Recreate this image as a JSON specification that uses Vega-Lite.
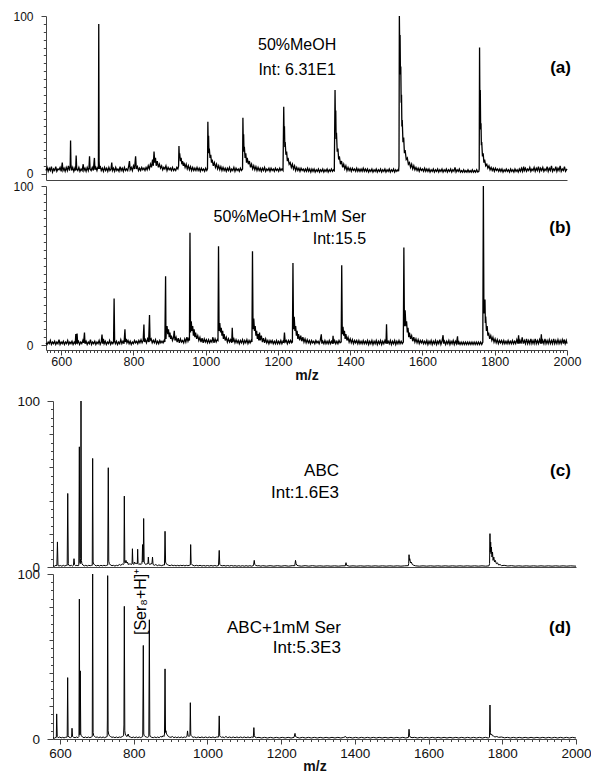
{
"$schema": "https://vega.github.io/schema/vega-lite/v6.json",
"background": "white",
"padding": {"left": 11, "top": 10, "right": 4, "bottom": 1},
"config": {"view": {"stroke": null}, "font": "Liberation Sans", "axis": {"grid": false, "domainColor": "#444", "tickColor": "#444", "labelColor": "#111", "titleColor": "#111", "labelOverlap": false, "labelFlush": false}},
"datasets": {
"a": [{"x":558,"y":2},{"x":561,"y":4},{"x":564,"y":1.5},{"x":567,"y":3.5},{"x":570,"y":2},{"x":573,"y":4.5},{"x":576,"y":1},{"x":579,"y":3},{"x":582,"y":2},{"x":585,"y":4.5},{"x":588,"y":1.5},{"x":591,"y":3},{"x":594,"y":2.5},{"x":597,"y":4},{"x":600,"y":1.5},{"x":603,"y":7},{"x":605,"y":2},{"x":608,"y":3.5},{"x":611,"y":1.5},{"x":614,"y":4},{"x":617,"y":2},{"x":620,"y":5},{"x":623,"y":2},{"x":625,"y":5},{"x":626,"y":21},{"x":627,"y":6},{"x":629,"y":2},{"x":632,"y":4},{"x":635,"y":1.5},{"x":638,"y":3.5},{"x":640,"y":2},{"x":641.5,"y":11.5},{"x":643,"y":3},{"x":646,"y":2},{"x":649,"y":4},{"x":652,"y":1.5},{"x":655,"y":3},{"x":658,"y":2},{"x":661,"y":6},{"x":663,"y":2},{"x":666,"y":3.5},{"x":669,"y":1.5},{"x":672,"y":4},{"x":675,"y":2},{"x":677,"y":4},{"x":678.5,"y":11},{"x":680,"y":3},{"x":683,"y":2},{"x":686,"y":4},{"x":689,"y":2},{"x":692,"y":10},{"x":693.5,"y":2.5},{"x":696,"y":4},{"x":699,"y":2},{"x":702,"y":4.5},{"x":703,"y":3},{"x":704,"y":95},{"x":705,"y":8},{"x":706,"y":3},{"x":708,"y":5},{"x":711,"y":2},{"x":714,"y":3.5},{"x":717,"y":1.5},{"x":720,"y":4},{"x":723,"y":2},{"x":726,"y":3.5},{"x":729,"y":1.5},{"x":732,"y":4},{"x":735,"y":2},{"x":738,"y":3},{"x":740,"y":7},{"x":742,"y":2},{"x":745,"y":3.5},{"x":748,"y":1.5},{"x":751,"y":4},{"x":754,"y":2},{"x":757,"y":3},{"x":760,"y":1.5},{"x":763,"y":4.5},{"x":766,"y":2},{"x":769,"y":3.5},{"x":772,"y":1.5},{"x":775,"y":4},{"x":778,"y":2},{"x":781,"y":3},{"x":784,"y":2},{"x":787,"y":5},{"x":789,"y":8},{"x":791,"y":2.5},{"x":794,"y":4},{"x":797,"y":2},{"x":800,"y":5},{"x":803,"y":3},{"x":806,"y":11},{"x":808,"y":3},{"x":811,"y":4.5},{"x":814,"y":2},{"x":817,"y":3.5},{"x":820,"y":2},{"x":823,"y":4},{"x":826,"y":2.5},{"x":829,"y":3.5},{"x":832,"y":2},{"x":835,"y":4},{"x":838,"y":2.5},{"x":841,"y":5},{"x":844,"y":3},{"x":847,"y":6},{"x":850,"y":4},{"x":853,"y":9},{"x":855,"y":5},{"x":857,"y":14},{"x":859,"y":7},{"x":861,"y":10},{"x":863,"y":5},{"x":866,"y":8},{"x":869,"y":4},{"x":872,"y":6},{"x":875,"y":3.5},{"x":878,"y":5},{"x":881,"y":2.5},{"x":884,"y":4},{"x":887,"y":3},{"x":890,"y":5},{"x":893,"y":2},{"x":896,"y":4},{"x":899,"y":2.5},{"x":902,"y":3.5},{"x":905,"y":2},{"x":908,"y":4},{"x":911,"y":2},{"x":914,"y":3},{"x":917,"y":2},{"x":920,"y":4},{"x":923,"y":3},{"x":925,"y":5},{"x":926,"y":17.5},{"x":927,"y":10},{"x":928,"y":13},{"x":930,"y":8},{"x":932,"y":10},{"x":934,"y":6},{"x":936,"y":8},{"x":938,"y":5},{"x":940,"y":7},{"x":943,"y":4},{"x":946,"y":6},{"x":949,"y":3},{"x":952,"y":5},{"x":955,"y":2.5},{"x":958,"y":4.5},{"x":961,"y":2},{"x":964,"y":4},{"x":967,"y":2},{"x":970,"y":3.5},{"x":973,"y":2},{"x":976,"y":4},{"x":979,"y":2},{"x":982,"y":3.5},{"x":985,"y":1.5},{"x":988,"y":3.5},{"x":991,"y":2},{"x":994,"y":3},{"x":997,"y":1.5},{"x":1000,"y":3.5},{"x":1003,"y":2},{"x":1005,"y":3},{"x":1006,"y":33},{"x":1007,"y":18},{"x":1008,"y":24},{"x":1009,"y":13},{"x":1010,"y":16},{"x":1012,"y":10},{"x":1014,"y":12},{"x":1016,"y":7},{"x":1018,"y":9},{"x":1021,"y":5},{"x":1024,"y":7},{"x":1027,"y":4},{"x":1030,"y":6},{"x":1033,"y":3},{"x":1036,"y":5},{"x":1039,"y":2.5},{"x":1042,"y":4.5},{"x":1045,"y":2},{"x":1048,"y":4},{"x":1051,"y":2},{"x":1054,"y":3.5},{"x":1057,"y":1.5},{"x":1060,"y":3.5},{"x":1063,"y":2},{"x":1066,"y":4},{"x":1069,"y":1.5},{"x":1072,"y":3},{"x":1075,"y":2},{"x":1078,"y":4},{"x":1081,"y":1.5},{"x":1084,"y":3.5},{"x":1087,"y":2},{"x":1090,"y":3},{"x":1093,"y":1.5},{"x":1096,"y":3.5},{"x":1099,"y":2},{"x":1102,"y":3},{"x":1103,"y":35.5},{"x":1104,"y":20},{"x":1105,"y":25},{"x":1106,"y":14},{"x":1107,"y":17},{"x":1109,"y":10},{"x":1111,"y":13},{"x":1113,"y":7},{"x":1115,"y":10},{"x":1118,"y":6},{"x":1121,"y":8},{"x":1124,"y":4},{"x":1127,"y":6},{"x":1130,"y":3},{"x":1133,"y":5},{"x":1136,"y":2.5},{"x":1139,"y":4.5},{"x":1142,"y":2},{"x":1145,"y":4},{"x":1148,"y":2},{"x":1151,"y":3.5},{"x":1154,"y":1.5},{"x":1157,"y":3.5},{"x":1160,"y":2},{"x":1163,"y":4},{"x":1166,"y":1.5},{"x":1169,"y":3},{"x":1172,"y":2},{"x":1175,"y":3.5},{"x":1178,"y":1.5},{"x":1181,"y":3.5},{"x":1184,"y":2},{"x":1187,"y":3},{"x":1190,"y":1.5},{"x":1193,"y":3.5},{"x":1196,"y":2},{"x":1199,"y":3},{"x":1202,"y":1.5},{"x":1205,"y":3.5},{"x":1208,"y":2},{"x":1211,"y":3},{"x":1214,"y":2},{"x":1216,"y":42.5},{"x":1217,"y":25},{"x":1218,"y":30},{"x":1219,"y":17},{"x":1220,"y":20},{"x":1222,"y":12},{"x":1224,"y":14},{"x":1226,"y":8},{"x":1228,"y":10},{"x":1231,"y":6},{"x":1234,"y":7},{"x":1237,"y":4},{"x":1240,"y":6},{"x":1243,"y":3},{"x":1246,"y":5},{"x":1249,"y":2},{"x":1252,"y":4},{"x":1255,"y":2},{"x":1258,"y":3.5},{"x":1261,"y":1.5},{"x":1264,"y":3.5},{"x":1267,"y":2},{"x":1270,"y":3},{"x":1273,"y":1.5},{"x":1276,"y":3},{"x":1279,"y":1.5},{"x":1282,"y":3.5},{"x":1285,"y":1.5},{"x":1288,"y":3},{"x":1291,"y":1},{"x":1294,"y":3},{"x":1297,"y":1.5},{"x":1300,"y":3},{"x":1303,"y":1},{"x":1306,"y":2.5},{"x":1309,"y":1.5},{"x":1312,"y":3},{"x":1315,"y":1},{"x":1318,"y":2.5},{"x":1321,"y":1.5},{"x":1324,"y":3},{"x":1327,"y":1},{"x":1330,"y":2.5},{"x":1333,"y":1.5},{"x":1336,"y":3},{"x":1339,"y":1},{"x":1342,"y":2.5},{"x":1345,"y":1.5},{"x":1348,"y":3},{"x":1351,"y":1.5},{"x":1354,"y":2.5},{"x":1356,"y":2},{"x":1358,"y":53},{"x":1359,"y":33},{"x":1360,"y":40},{"x":1361,"y":22},{"x":1362,"y":26},{"x":1364,"y":14},{"x":1366,"y":16},{"x":1368,"y":9},{"x":1370,"y":11},{"x":1373,"y":6},{"x":1376,"y":8},{"x":1379,"y":4},{"x":1382,"y":6},{"x":1385,"y":3},{"x":1388,"y":5},{"x":1391,"y":2},{"x":1394,"y":4},{"x":1397,"y":2},{"x":1400,"y":3.5},{"x":1403,"y":1.5},{"x":1406,"y":3.5},{"x":1409,"y":2},{"x":1412,"y":3},{"x":1415,"y":1.5},{"x":1418,"y":3.5},{"x":1421,"y":1.5},{"x":1424,"y":3},{"x":1427,"y":1.5},{"x":1430,"y":3},{"x":1433,"y":1.5},{"x":1436,"y":3.5},{"x":1439,"y":1.5},{"x":1442,"y":3},{"x":1445,"y":1.5},{"x":1448,"y":3},{"x":1451,"y":1},{"x":1454,"y":2.5},{"x":1457,"y":1.5},{"x":1460,"y":3},{"x":1463,"y":1},{"x":1466,"y":2.5},{"x":1469,"y":1.5},{"x":1472,"y":3},{"x":1475,"y":1},{"x":1478,"y":2.5},{"x":1481,"y":1.5},{"x":1484,"y":3},{"x":1487,"y":1},{"x":1490,"y":2.5},{"x":1493,"y":1.5},{"x":1496,"y":3},{"x":1499,"y":1},{"x":1502,"y":2.5},{"x":1505,"y":1.5},{"x":1508,"y":3},{"x":1511,"y":1},{"x":1514,"y":2.5},{"x":1517,"y":1.5},{"x":1520,"y":3},{"x":1523,"y":1},{"x":1526,"y":2.5},{"x":1529,"y":1.5},{"x":1532,"y":2.5},{"x":1534,"y":1.5},{"x":1535,"y":5},{"x":1536,"y":100},{"x":1537,"y":80},{"x":1538,"y":88},{"x":1539,"y":63},{"x":1540,"y":68},{"x":1541,"y":45},{"x":1542,"y":50},{"x":1543,"y":30},{"x":1544,"y":34},{"x":1546,"y":20},{"x":1548,"y":23},{"x":1550,"y":13},{"x":1552,"y":15},{"x":1555,"y":9},{"x":1558,"y":10},{"x":1561,"y":6},{"x":1564,"y":7},{"x":1567,"y":4},{"x":1570,"y":6},{"x":1573,"y":3},{"x":1576,"y":5},{"x":1579,"y":2.5},{"x":1582,"y":4},{"x":1585,"y":2},{"x":1588,"y":3.5},{"x":1591,"y":1.5},{"x":1594,"y":3.5},{"x":1597,"y":2},{"x":1600,"y":3},{"x":1603,"y":1.5},{"x":1606,"y":3.5},{"x":1609,"y":1.5},{"x":1612,"y":3},{"x":1615,"y":1.5},{"x":1618,"y":3},{"x":1621,"y":1},{"x":1624,"y":2.5},{"x":1627,"y":1.5},{"x":1630,"y":3},{"x":1633,"y":1},{"x":1636,"y":2.5},{"x":1639,"y":1.5},{"x":1642,"y":3},{"x":1645,"y":1},{"x":1648,"y":2.5},{"x":1651,"y":1.5},{"x":1654,"y":3},{"x":1657,"y":1},{"x":1660,"y":2.5},{"x":1663,"y":1.5},{"x":1666,"y":3},{"x":1669,"y":1},{"x":1672,"y":2.5},{"x":1675,"y":1.5},{"x":1678,"y":3},{"x":1681,"y":1},{"x":1684,"y":2.5},{"x":1687,"y":1.5},{"x":1690,"y":4},{"x":1693,"y":1},{"x":1696,"y":2.5},{"x":1699,"y":1.5},{"x":1702,"y":3},{"x":1705,"y":1},{"x":1708,"y":2},{"x":1711,"y":1},{"x":1714,"y":2.5},{"x":1717,"y":1},{"x":1720,"y":2},{"x":1723,"y":1},{"x":1726,"y":2.5},{"x":1729,"y":1},{"x":1732,"y":2},{"x":1735,"y":1},{"x":1738,"y":2.5},{"x":1741,"y":1},{"x":1744,"y":2},{"x":1747,"y":1},{"x":1750,"y":2.5},{"x":1753,"y":1},{"x":1756,"y":1.5},{"x":1757,"y":3},{"x":1758,"y":80},{"x":1759,"y":40},{"x":1760,"y":53},{"x":1761,"y":28},{"x":1762,"y":32},{"x":1763,"y":18},{"x":1764,"y":20},{"x":1766,"y":11},{"x":1768,"y":13},{"x":1770,"y":7},{"x":1772,"y":9},{"x":1775,"y":5},{"x":1778,"y":6},{"x":1781,"y":3.5},{"x":1784,"y":5},{"x":1787,"y":2.5},{"x":1790,"y":4},{"x":1793,"y":2},{"x":1796,"y":3.5},{"x":1799,"y":1.5},{"x":1802,"y":3.5},{"x":1805,"y":2},{"x":1808,"y":3},{"x":1811,"y":1.5},{"x":1814,"y":3},{"x":1817,"y":1.5},{"x":1820,"y":3},{"x":1823,"y":1},{"x":1826,"y":2.5},{"x":1829,"y":1.5},{"x":1832,"y":3},{"x":1835,"y":1.5},{"x":1838,"y":2.5},{"x":1841,"y":1},{"x":1844,"y":3},{"x":1847,"y":1.5},{"x":1850,"y":2.5},{"x":1853,"y":1},{"x":1856,"y":3},{"x":1859,"y":1.5},{"x":1862,"y":2.5},{"x":1865,"y":1},{"x":1868,"y":3},{"x":1871,"y":1.5},{"x":1874,"y":3.5},{"x":1877,"y":1.5},{"x":1880,"y":4.5},{"x":1882,"y":2},{"x":1885,"y":3.5},{"x":1888,"y":1.5},{"x":1891,"y":3},{"x":1894,"y":2},{"x":1897,"y":4},{"x":1900,"y":1.5},{"x":1903,"y":3},{"x":1906,"y":2},{"x":1909,"y":4},{"x":1912,"y":1.5},{"x":1915,"y":3.5},{"x":1918,"y":2},{"x":1921,"y":4.5},{"x":1924,"y":1.5},{"x":1927,"y":3.5},{"x":1930,"y":2},{"x":1933,"y":4},{"x":1936,"y":1.5},{"x":1939,"y":3},{"x":1942,"y":2},{"x":1945,"y":4.5},{"x":1948,"y":1.5},{"x":1951,"y":3.5},{"x":1954,"y":2},{"x":1957,"y":5},{"x":1960,"y":1.5},{"x":1963,"y":3},{"x":1966,"y":2},{"x":1969,"y":4.5},{"x":1972,"y":1.5},{"x":1975,"y":3.5},{"x":1978,"y":2},{"x":1981,"y":5},{"x":1984,"y":1.5},{"x":1987,"y":3},{"x":1990,"y":2},{"x":1993,"y":4.5},{"x":1996,"y":1.5},{"x":2000,"y":3}],
"b": [{"x":558,"y":1.5},{"x":561,"y":0.5},{"x":564,"y":2},{"x":567,"y":1},{"x":570,"y":3},{"x":573,"y":0.5},{"x":576,"y":2},{"x":579,"y":1},{"x":582,"y":2.5},{"x":585,"y":0.5},{"x":588,"y":2},{"x":591,"y":1},{"x":594,"y":3.5},{"x":597,"y":0.5},{"x":600,"y":2},{"x":603,"y":1},{"x":606,"y":2.5},{"x":609,"y":0.5},{"x":612,"y":2},{"x":615,"y":1},{"x":618,"y":3},{"x":621,"y":0.5},{"x":624,"y":2},{"x":627,"y":1},{"x":630,"y":2.5},{"x":633,"y":0.5},{"x":636,"y":2},{"x":639,"y":1},{"x":640.5,"y":7},{"x":642,"y":1},{"x":644,"y":7.3},{"x":645.5,"y":1.5},{"x":648,"y":2.5},{"x":651,"y":0.5},{"x":654,"y":2},{"x":657,"y":1},{"x":660,"y":3},{"x":662,"y":1.5},{"x":664.5,"y":8},{"x":666,"y":1},{"x":669,"y":2.5},{"x":672,"y":0.5},{"x":675,"y":2},{"x":678,"y":1},{"x":681,"y":3.5},{"x":684,"y":0.5},{"x":687,"y":2},{"x":690,"y":1},{"x":693,"y":2.5},{"x":696,"y":0.5},{"x":699,"y":2},{"x":702,"y":1},{"x":705,"y":3},{"x":708,"y":0.5},{"x":711,"y":2},{"x":713,"y":6.7},{"x":715,"y":1},{"x":717,"y":4},{"x":719,"y":1},{"x":722,"y":2.5},{"x":725,"y":0.5},{"x":728,"y":2},{"x":731,"y":1},{"x":734,"y":3},{"x":737,"y":0.5},{"x":740,"y":2},{"x":743,"y":1},{"x":745,"y":2},{"x":746.5,"y":29.3},{"x":748,"y":2.5},{"x":750,"y":1},{"x":753,"y":2.5},{"x":756,"y":0.5},{"x":759,"y":2},{"x":762,"y":1},{"x":765,"y":3.5},{"x":768,"y":1},{"x":771,"y":2.5},{"x":774,"y":1},{"x":776.5,"y":10},{"x":778,"y":2},{"x":780,"y":4},{"x":782,"y":1.5},{"x":785,"y":3},{"x":788,"y":1},{"x":791,"y":2.5},{"x":794,"y":0.5},{"x":797,"y":2},{"x":800,"y":1},{"x":803,"y":3},{"x":806,"y":1.5},{"x":809,"y":2.5},{"x":812,"y":1},{"x":815,"y":3},{"x":818,"y":1.5},{"x":821,"y":3.5},{"x":824,"y":1.5},{"x":827,"y":3},{"x":829,"y":13},{"x":830.5,"y":2},{"x":833,"y":3.5},{"x":836,"y":1.5},{"x":839,"y":4},{"x":842,"y":2},{"x":844.5,"y":19},{"x":846,"y":3},{"x":849,"y":4},{"x":852,"y":1.5},{"x":855,"y":3},{"x":858,"y":1.5},{"x":861,"y":3.5},{"x":864,"y":1},{"x":867,"y":2.5},{"x":870,"y":1},{"x":873,"y":3},{"x":876,"y":1.5},{"x":879,"y":2.5},{"x":882,"y":1.5},{"x":885,"y":3},{"x":887,"y":2},{"x":889,"y":43.3},{"x":890,"y":4},{"x":891,"y":9},{"x":893,"y":12},{"x":895,"y":7},{"x":897,"y":10},{"x":899,"y":5},{"x":901,"y":8},{"x":903,"y":4},{"x":905,"y":6},{"x":908,"y":3},{"x":911,"y":5},{"x":913,"y":9},{"x":915,"y":3},{"x":918,"y":5},{"x":921,"y":2},{"x":924,"y":4.5},{"x":927,"y":1.5},{"x":930,"y":4},{"x":933,"y":2},{"x":936,"y":3},{"x":939,"y":1.5},{"x":942,"y":4},{"x":945,"y":2},{"x":948,"y":5},{"x":951,"y":2.5},{"x":953,"y":4},{"x":955,"y":3},{"x":956.5,"y":70.7},{"x":958,"y":8},{"x":959,"y":12},{"x":960,"y":15},{"x":962,"y":9},{"x":964,"y":12},{"x":966,"y":6},{"x":968,"y":10},{"x":970,"y":5},{"x":972,"y":8},{"x":975,"y":4},{"x":978,"y":6},{"x":981,"y":3},{"x":984,"y":5},{"x":987,"y":2},{"x":990,"y":4.5},{"x":993,"y":1.5},{"x":996,"y":4},{"x":999,"y":2},{"x":1002,"y":3.5},{"x":1005,"y":1.5},{"x":1008,"y":3.5},{"x":1011,"y":1.5},{"x":1014,"y":3},{"x":1017,"y":2},{"x":1020,"y":5},{"x":1023,"y":1.5},{"x":1026,"y":4},{"x":1029,"y":2},{"x":1032,"y":3.5},{"x":1034,"y":3},{"x":1035.5,"y":62.1},{"x":1037,"y":9},{"x":1038,"y":12},{"x":1039,"y":14},{"x":1041,"y":8},{"x":1043,"y":11},{"x":1045,"y":6},{"x":1047,"y":9},{"x":1049,"y":4},{"x":1051,"y":7},{"x":1054,"y":3},{"x":1057,"y":5},{"x":1060,"y":2},{"x":1063,"y":4},{"x":1066,"y":2},{"x":1069,"y":3.5},{"x":1072,"y":1.5},{"x":1073.5,"y":10.9},{"x":1075,"y":2},{"x":1078,"y":4},{"x":1081,"y":1.5},{"x":1084,"y":3.5},{"x":1087,"y":1.5},{"x":1090,"y":3},{"x":1093,"y":1},{"x":1096,"y":3},{"x":1099,"y":1.5},{"x":1102,"y":3.5},{"x":1105,"y":1},{"x":1108,"y":3},{"x":1111,"y":1.5},{"x":1114,"y":3.5},{"x":1117,"y":1},{"x":1120,"y":3},{"x":1123,"y":1.5},{"x":1126,"y":3},{"x":1128,"y":2},{"x":1129.5,"y":59},{"x":1131,"y":10},{"x":1132,"y":14},{"x":1133,"y":16.7},{"x":1135,"y":9},{"x":1137,"y":12},{"x":1139,"y":6},{"x":1141,"y":9},{"x":1143,"y":4},{"x":1145,"y":7},{"x":1147,"y":3},{"x":1149,"y":8},{"x":1151,"y":3},{"x":1154,"y":6},{"x":1157,"y":2},{"x":1160,"y":4.5},{"x":1163,"y":1.5},{"x":1166,"y":4},{"x":1169,"y":1.5},{"x":1172,"y":3},{"x":1175,"y":1},{"x":1178,"y":3},{"x":1181,"y":1.5},{"x":1184,"y":3},{"x":1187,"y":1},{"x":1190,"y":2.5},{"x":1193,"y":1},{"x":1196,"y":3},{"x":1199,"y":1},{"x":1202,"y":2.5},{"x":1205,"y":1},{"x":1208,"y":3},{"x":1211,"y":1},{"x":1214,"y":2.5},{"x":1216,"y":1.5},{"x":1218,"y":8},{"x":1220,"y":2},{"x":1223,"y":3},{"x":1226,"y":1},{"x":1229,"y":3},{"x":1232,"y":1.5},{"x":1235,"y":3},{"x":1238,"y":1.5},{"x":1240,"y":2},{"x":1241.5,"y":51.7},{"x":1243,"y":10},{"x":1244,"y":14},{"x":1245,"y":17.8},{"x":1247,"y":9},{"x":1249,"y":12},{"x":1251,"y":6},{"x":1253,"y":9},{"x":1255,"y":4},{"x":1257,"y":7},{"x":1260,"y":3},{"x":1263,"y":6},{"x":1266,"y":2.5},{"x":1269,"y":5},{"x":1272,"y":2},{"x":1275,"y":4},{"x":1278,"y":1.5},{"x":1281,"y":3.5},{"x":1284,"y":1.5},{"x":1287,"y":3},{"x":1290,"y":1},{"x":1293,"y":3},{"x":1296,"y":1.5},{"x":1299,"y":2.5},{"x":1302,"y":1},{"x":1305,"y":3},{"x":1308,"y":1.5},{"x":1311,"y":2.5},{"x":1314,"y":1},{"x":1317,"y":3},{"x":1320,"y":6.9},{"x":1321.5,"y":1},{"x":1324,"y":2.5},{"x":1327,"y":1},{"x":1330,"y":3},{"x":1333,"y":1},{"x":1336,"y":2.5},{"x":1339,"y":1},{"x":1342,"y":3},{"x":1345,"y":1},{"x":1348,"y":2.5},{"x":1351,"y":1},{"x":1352.5,"y":6},{"x":1354,"y":1},{"x":1357,"y":3},{"x":1360,"y":1},{"x":1363,"y":2.5},{"x":1366,"y":1},{"x":1369,"y":3},{"x":1372,"y":1.5},{"x":1375,"y":2},{"x":1376.5,"y":50.2},{"x":1378,"y":7},{"x":1379,"y":9},{"x":1380,"y":11.5},{"x":1382,"y":6},{"x":1384,"y":9},{"x":1386,"y":4},{"x":1388,"y":7},{"x":1391,"y":3},{"x":1394,"y":5},{"x":1397,"y":2},{"x":1400,"y":4},{"x":1403,"y":1.5},{"x":1406,"y":3.5},{"x":1409,"y":1},{"x":1412,"y":3},{"x":1415,"y":1.5},{"x":1418,"y":3},{"x":1421,"y":1},{"x":1424,"y":3},{"x":1427,"y":1},{"x":1430,"y":2.5},{"x":1433,"y":1},{"x":1436,"y":3},{"x":1439,"y":1},{"x":1442,"y":2.5},{"x":1445,"y":1},{"x":1448,"y":3},{"x":1451,"y":0.5},{"x":1454,"y":2.5},{"x":1457,"y":1},{"x":1460,"y":3},{"x":1463,"y":0.5},{"x":1466,"y":2.5},{"x":1469,"y":1},{"x":1472,"y":3},{"x":1475,"y":0.5},{"x":1478,"y":2.5},{"x":1481,"y":1},{"x":1484,"y":3},{"x":1487,"y":0.5},{"x":1490,"y":2.5},{"x":1493,"y":1},{"x":1496,"y":3},{"x":1499,"y":1},{"x":1500.5,"y":13.2},{"x":1502,"y":1},{"x":1505,"y":2.5},{"x":1508,"y":1},{"x":1511,"y":3},{"x":1514,"y":0.5},{"x":1517,"y":2.5},{"x":1520,"y":1},{"x":1523,"y":3},{"x":1526,"y":0.5},{"x":1529,"y":2.5},{"x":1532,"y":1},{"x":1535,"y":3},{"x":1538,"y":1},{"x":1541,"y":2.5},{"x":1544,"y":1},{"x":1547,"y":2},{"x":1548.5,"y":61.3},{"x":1550,"y":12},{"x":1551,"y":18},{"x":1552,"y":22},{"x":1554,"y":12},{"x":1556,"y":15},{"x":1558,"y":8},{"x":1560,"y":11},{"x":1562,"y":5},{"x":1564,"y":8},{"x":1567,"y":4},{"x":1570,"y":6},{"x":1573,"y":2.5},{"x":1576,"y":5},{"x":1579,"y":2},{"x":1582,"y":4},{"x":1585,"y":1.5},{"x":1588,"y":3.5},{"x":1591,"y":1},{"x":1594,"y":3},{"x":1597,"y":1.5},{"x":1600,"y":3},{"x":1603,"y":1},{"x":1606,"y":2.5},{"x":1609,"y":1},{"x":1612,"y":3},{"x":1615,"y":0.5},{"x":1618,"y":2.5},{"x":1621,"y":1},{"x":1624,"y":3},{"x":1627,"y":0.5},{"x":1630,"y":2.5},{"x":1633,"y":1},{"x":1636,"y":3},{"x":1639,"y":0.5},{"x":1642,"y":2.5},{"x":1645,"y":1},{"x":1648,"y":3.5},{"x":1651,"y":0.5},{"x":1654,"y":2.5},{"x":1657,"y":6.3},{"x":1658.5,"y":1},{"x":1661,"y":2.5},{"x":1664,"y":0.5},{"x":1667,"y":2.5},{"x":1670,"y":1},{"x":1673,"y":3},{"x":1676,"y":0.5},{"x":1679,"y":2.5},{"x":1682,"y":1},{"x":1685,"y":3},{"x":1688,"y":0.5},{"x":1691,"y":2.5},{"x":1694,"y":1},{"x":1697,"y":5.6},{"x":1698.5,"y":0.5},{"x":1701,"y":2},{"x":1704,"y":0.5},{"x":1707,"y":2},{"x":1710,"y":0.5},{"x":1713,"y":2},{"x":1716,"y":0.5},{"x":1719,"y":2},{"x":1722,"y":0.5},{"x":1725,"y":2},{"x":1728,"y":0.5},{"x":1731,"y":2},{"x":1734,"y":0.5},{"x":1737,"y":2},{"x":1740,"y":0.5},{"x":1743,"y":2},{"x":1746,"y":0.5},{"x":1749,"y":2},{"x":1752,"y":0.5},{"x":1755,"y":2},{"x":1758,"y":0.5},{"x":1761,"y":2},{"x":1764,"y":0.5},{"x":1767,"y":2},{"x":1768.5,"y":100},{"x":1770,"y":20},{"x":1771,"y":28},{"x":1772,"y":24},{"x":1773,"y":28.7},{"x":1774,"y":14},{"x":1775,"y":18},{"x":1777,"y":9},{"x":1779,"y":12},{"x":1781,"y":6},{"x":1783,"y":8},{"x":1786,"y":4},{"x":1789,"y":6},{"x":1792,"y":3},{"x":1795,"y":5},{"x":1798,"y":2},{"x":1801,"y":4},{"x":1804,"y":1.5},{"x":1807,"y":3.5},{"x":1810,"y":1},{"x":1813,"y":3},{"x":1816,"y":1.5},{"x":1819,"y":3},{"x":1822,"y":1},{"x":1825,"y":3},{"x":1828,"y":1},{"x":1831,"y":2.5},{"x":1834,"y":1},{"x":1837,"y":3},{"x":1840,"y":1},{"x":1843,"y":2.5},{"x":1846,"y":1},{"x":1849,"y":3},{"x":1852,"y":1},{"x":1855,"y":2.5},{"x":1858,"y":1},{"x":1861,"y":3.5},{"x":1864,"y":1},{"x":1866,"y":6.3},{"x":1867.5,"y":1},{"x":1870,"y":3},{"x":1873,"y":1},{"x":1876,"y":5},{"x":1879,"y":1},{"x":1882,"y":3},{"x":1885,"y":1},{"x":1888,"y":4},{"x":1891,"y":1},{"x":1894,"y":3},{"x":1897,"y":1},{"x":1900,"y":4},{"x":1903,"y":1},{"x":1906,"y":3},{"x":1909,"y":1},{"x":1912,"y":4},{"x":1915,"y":1},{"x":1918,"y":3},{"x":1921,"y":1},{"x":1924,"y":3.5},{"x":1927,"y":1},{"x":1929,"y":6.9},{"x":1930.5,"y":1},{"x":1933,"y":3},{"x":1936,"y":1},{"x":1939,"y":4},{"x":1942,"y":1},{"x":1945,"y":3},{"x":1948,"y":1},{"x":1951,"y":3.5},{"x":1954,"y":1},{"x":1957,"y":3},{"x":1960,"y":1},{"x":1963,"y":4},{"x":1966,"y":1},{"x":1969,"y":3},{"x":1972,"y":1},{"x":1975,"y":3.5},{"x":1978,"y":1},{"x":1981,"y":3},{"x":1984,"y":1},{"x":1987,"y":3.5},{"x":1990,"y":1},{"x":1992,"y":3.6},{"x":1995,"y":1},{"x":1998,"y":3},{"x":2000,"y":1}],
"c": [{"x":581,"y":0.8},{"x":585,"y":0.5},{"x":589,"y":1},{"x":591.5,"y":0.8},{"x":593,"y":15.1},{"x":594.5,"y":1},{"x":597,"y":0.6},{"x":601,"y":0.9},{"x":605,"y":0.5},{"x":609,"y":1},{"x":613,"y":0.6},{"x":617,"y":1},{"x":619.5,"y":1},{"x":621,"y":44.3},{"x":622.5,"y":2},{"x":624,"y":1},{"x":627,"y":0.7},{"x":631,"y":1},{"x":634,"y":0.6},{"x":636.5,"y":1},{"x":638,"y":5},{"x":639.5,"y":1.5},{"x":642,"y":0.8},{"x":646,"y":1},{"x":649,"y":0.7},{"x":651,"y":1},{"x":652.5,"y":72.4},{"x":653.5,"y":3},{"x":655,"y":2},{"x":656,"y":5},{"x":657,"y":100},{"x":658,"y":4},{"x":659.5,"y":2},{"x":662,"y":1.2},{"x":666,"y":0.7},{"x":670,"y":1},{"x":674,"y":0.6},{"x":678,"y":1},{"x":682,"y":0.8},{"x":686,"y":1},{"x":687.5,"y":1},{"x":688.6,"y":65.4},{"x":689.8,"y":3},{"x":691.5,"y":1.8},{"x":695,"y":1},{"x":699,"y":0.7},{"x":703,"y":1},{"x":707,"y":0.6},{"x":711,"y":1},{"x":715,"y":0.7},{"x":719,"y":1},{"x":723,"y":0.8},{"x":727,"y":1},{"x":729.5,"y":1.2},{"x":731,"y":59.8},{"x":732.3,"y":3.5},{"x":734,"y":2},{"x":737,"y":1.2},{"x":741,"y":0.8},{"x":745,"y":1},{"x":749,"y":0.6},{"x":753,"y":1},{"x":757,"y":0.8},{"x":761,"y":1.5},{"x":765,"y":1},{"x":769,"y":1.8},{"x":772,"y":1.5},{"x":773.5,"y":2},{"x":774.5,"y":42.7},{"x":775.8,"y":3},{"x":777,"y":2.5},{"x":779,"y":4},{"x":781,"y":2.5},{"x":783,"y":3},{"x":785,"y":1.5},{"x":788,"y":2},{"x":790,"y":1.5},{"x":792,"y":2},{"x":794,"y":1.5},{"x":795.5,"y":2},{"x":796.5,"y":11},{"x":797.8,"y":2},{"x":800,"y":1.5},{"x":802,"y":3},{"x":804,"y":2},{"x":806,"y":2.5},{"x":808,"y":2},{"x":809.8,"y":2},{"x":810.7,"y":10.7},{"x":811.8,"y":2},{"x":814,"y":1.5},{"x":817,"y":2},{"x":820,"y":1.5},{"x":822,"y":2},{"x":823,"y":4},{"x":824,"y":13.5},{"x":825,"y":3},{"x":826,"y":4},{"x":827,"y":29.2},{"x":828.3,"y":3},{"x":830,"y":2},{"x":833,"y":1.5},{"x":836,"y":2},{"x":838.5,"y":2},{"x":839.7,"y":6},{"x":841,"y":2},{"x":844,"y":1.5},{"x":847,"y":2},{"x":849.5,"y":2},{"x":851,"y":6},{"x":852.5,"y":1.5},{"x":856,"y":1},{"x":860,"y":1.5},{"x":864,"y":0.8},{"x":868,"y":1.2},{"x":872,"y":1},{"x":876,"y":0.8},{"x":880,"y":1.2},{"x":883.5,"y":1.2},{"x":885,"y":21.5},{"x":886.5,"y":3},{"x":888,"y":2},{"x":891,"y":1.5},{"x":895,"y":1},{"x":899,"y":0.8},{"x":903,"y":1.2},{"x":907,"y":0.8},{"x":911,"y":1},{"x":915,"y":0.7},{"x":919,"y":1},{"x":923,"y":0.7},{"x":927,"y":1},{"x":931,"y":0.8},{"x":935,"y":1},{"x":939,"y":0.7},{"x":943,"y":1},{"x":947,"y":0.8},{"x":951,"y":1},{"x":953.5,"y":1.2},{"x":954.5,"y":13.5},{"x":955.8,"y":2},{"x":957.5,"y":1.5},{"x":961,"y":1},{"x":965,"y":0.7},{"x":970,"y":1},{"x":975,"y":0.7},{"x":980,"y":1},{"x":985,"y":0.6},{"x":990,"y":0.9},{"x":995,"y":0.6},{"x":1000,"y":0.9},{"x":1005,"y":0.6},{"x":1010,"y":0.9},{"x":1015,"y":0.6},{"x":1020,"y":0.9},{"x":1025,"y":0.6},{"x":1030,"y":0.9},{"x":1032,"y":10},{"x":1033.5,"y":1.5},{"x":1036,"y":1},{"x":1040,"y":0.7},{"x":1045,"y":0.9},{"x":1050,"y":0.6},{"x":1055,"y":0.9},{"x":1060,"y":0.6},{"x":1065,"y":0.9},{"x":1070,"y":0.6},{"x":1075,"y":0.8},{"x":1080,"y":0.5},{"x":1085,"y":0.8},{"x":1090,"y":0.5},{"x":1095,"y":0.8},{"x":1100,"y":0.5},{"x":1105,"y":0.8},{"x":1110,"y":0.5},{"x":1115,"y":0.8},{"x":1120,"y":0.5},{"x":1125,"y":0.9},{"x":1127,"y":4},{"x":1128.5,"y":1.5},{"x":1131,"y":1},{"x":1135,"y":0.7},{"x":1140,"y":0.8},{"x":1145,"y":0.5},{"x":1150,"y":0.8},{"x":1160,"y":0.5},{"x":1170,"y":0.8},{"x":1180,"y":0.5},{"x":1190,"y":0.8},{"x":1200,"y":0.5},{"x":1210,"y":0.8},{"x":1220,"y":0.5},{"x":1230,"y":0.8},{"x":1237,"y":0.8},{"x":1239,"y":4},{"x":1240.5,"y":2},{"x":1243,"y":1},{"x":1248,"y":0.7},{"x":1255,"y":0.5},{"x":1265,"y":0.8},{"x":1275,"y":0.5},{"x":1285,"y":0.8},{"x":1295,"y":0.5},{"x":1305,"y":0.7},{"x":1315,"y":0.5},{"x":1325,"y":0.7},{"x":1335,"y":0.5},{"x":1345,"y":0.7},{"x":1355,"y":0.5},{"x":1365,"y":0.7},{"x":1374,"y":0.7},{"x":1376,"y":2.6},{"x":1377.5,"y":1},{"x":1385,"y":0.5},{"x":1395,"y":0.7},{"x":1405,"y":0.5},{"x":1415,"y":0.7},{"x":1425,"y":0.5},{"x":1435,"y":0.7},{"x":1445,"y":0.5},{"x":1455,"y":0.7},{"x":1465,"y":0.5},{"x":1475,"y":0.7},{"x":1485,"y":0.5},{"x":1495,"y":0.7},{"x":1505,"y":0.5},{"x":1515,"y":0.7},{"x":1525,"y":0.5},{"x":1535,"y":0.7},{"x":1545,"y":0.8},{"x":1546,"y":2},{"x":1547,"y":7.4},{"x":1548,"y":4},{"x":1549,"y":5},{"x":1551,"y":2.5},{"x":1553,"y":3},{"x":1556,"y":1.5},{"x":1560,"y":1},{"x":1565,"y":0.7},{"x":1575,"y":0.5},{"x":1585,"y":0.7},{"x":1595,"y":0.5},{"x":1605,"y":0.7},{"x":1615,"y":0.5},{"x":1625,"y":0.7},{"x":1635,"y":0.5},{"x":1645,"y":0.7},{"x":1655,"y":0.5},{"x":1665,"y":0.7},{"x":1675,"y":0.5},{"x":1685,"y":0.7},{"x":1695,"y":0.5},{"x":1705,"y":0.7},{"x":1715,"y":0.5},{"x":1725,"y":0.7},{"x":1735,"y":0.5},{"x":1745,"y":0.7},{"x":1755,"y":0.5},{"x":1764,"y":0.7},{"x":1765.5,"y":2},{"x":1766.6,"y":20.1},{"x":1767.5,"y":9},{"x":1768.5,"y":15},{"x":1769.5,"y":8},{"x":1770.5,"y":12},{"x":1772,"y":6},{"x":1773.5,"y":9},{"x":1775,"y":4},{"x":1777,"y":6},{"x":1779,"y":3},{"x":1781,"y":4},{"x":1784,"y":2},{"x":1787,"y":2.5},{"x":1790,"y":1.2},{"x":1794,"y":1.5},{"x":1798,"y":0.8},{"x":1805,"y":1},{"x":1815,"y":0.6},{"x":1825,"y":0.8},{"x":1835,"y":0.5},{"x":1845,"y":0.7},{"x":1855,"y":0.5},{"x":1865,"y":0.7},{"x":1875,"y":0.5},{"x":1885,"y":0.7},{"x":1895,"y":0.5},{"x":1905,"y":0.7},{"x":1915,"y":0.5},{"x":1925,"y":0.7},{"x":1935,"y":0.5},{"x":1945,"y":0.7},{"x":1955,"y":0.5},{"x":1965,"y":0.7},{"x":1975,"y":0.5},{"x":1985,"y":0.7},{"x":2000,"y":0.5}],
"d": [{"x":581,"y":0.8},{"x":585,"y":0.5},{"x":589,"y":1},{"x":590,"y":1},{"x":591,"y":15.2},{"x":592.5,"y":1.5},{"x":595,"y":0.8},{"x":599,"y":1.2},{"x":603,"y":0.7},{"x":607,"y":1},{"x":611,"y":0.7},{"x":615,"y":1},{"x":619.5,"y":1.2},{"x":620.8,"y":37.2},{"x":622,"y":2},{"x":624,"y":1.2},{"x":628,"y":0.8},{"x":631.5,"y":1.2},{"x":632.6,"y":6.5},{"x":634,"y":1.5},{"x":637,"y":1},{"x":641,"y":0.8},{"x":645,"y":1.2},{"x":649,"y":0.8},{"x":651.5,"y":1.5},{"x":652.5,"y":84.8},{"x":653.5,"y":3},{"x":654,"y":2.5},{"x":655,"y":41.3},{"x":656.3,"y":3},{"x":658,"y":2},{"x":661,"y":1.2},{"x":665,"y":0.8},{"x":669,"y":1.2},{"x":673,"y":0.8},{"x":677,"y":1.2},{"x":681,"y":0.8},{"x":685,"y":1.2},{"x":687.5,"y":1.5},{"x":688.6,"y":100},{"x":689.8,"y":4},{"x":691.5,"y":2},{"x":694,"y":1.5},{"x":697,"y":1},{"x":701,"y":1.2},{"x":705,"y":0.8},{"x":709,"y":1.2},{"x":713,"y":0.8},{"x":717,"y":1.2},{"x":721,"y":0.8},{"x":725,"y":1.2},{"x":728,"y":1.5},{"x":728.5,"y":11.5},{"x":729.3,"y":99},{"x":730.5,"y":5},{"x":732,"y":3},{"x":734,"y":2},{"x":737,"y":1.5},{"x":741,"y":1},{"x":745,"y":1.2},{"x":749,"y":0.8},{"x":753,"y":1.2},{"x":757,"y":0.8},{"x":761,"y":1.2},{"x":765,"y":1},{"x":769,"y":1.5},{"x":772.5,"y":2},{"x":773.5,"y":8.5},{"x":774.5,"y":80.4},{"x":775.8,"y":5},{"x":777,"y":3},{"x":779,"y":2},{"x":782,"y":1.5},{"x":785,"y":3},{"x":787,"y":1.5},{"x":791,"y":1.2},{"x":795,"y":0.8},{"x":799,"y":1.2},{"x":803,"y":0.8},{"x":807,"y":1.2},{"x":811,"y":0.8},{"x":815,"y":1.2},{"x":819,"y":0.8},{"x":822,"y":1.2},{"x":824.5,"y":1.5},{"x":826,"y":56.7},{"x":827.3,"y":3},{"x":829,"y":2},{"x":831,"y":1.5},{"x":834,"y":1.2},{"x":838,"y":1},{"x":841,"y":1.5},{"x":842.4,"y":72.3},{"x":843.7,"y":2.5},{"x":845,"y":1.5},{"x":849,"y":1},{"x":853,"y":0.8},{"x":857,"y":1.2},{"x":861,"y":0.8},{"x":865,"y":1.2},{"x":869,"y":0.8},{"x":873,"y":1.5},{"x":877,"y":1.2},{"x":880,"y":2},{"x":882,"y":1.5},{"x":883.5,"y":3},{"x":885,"y":42.5},{"x":886.3,"y":4},{"x":887.5,"y":5},{"x":889,"y":3},{"x":891,"y":2.5},{"x":894,"y":1.5},{"x":897,"y":1.2},{"x":901,"y":1},{"x":905,"y":1.5},{"x":909,"y":0.8},{"x":913,"y":1.2},{"x":917,"y":0.8},{"x":921,"y":1.2},{"x":925,"y":0.8},{"x":929,"y":1.2},{"x":933,"y":0.8},{"x":937,"y":1.2},{"x":941,"y":1},{"x":944.5,"y":1.5},{"x":946,"y":4.9},{"x":947.5,"y":2},{"x":950,"y":1.5},{"x":952.5,"y":2},{"x":953.6,"y":22},{"x":954.8,"y":3},{"x":956,"y":2},{"x":958,"y":1.5},{"x":961,"y":1},{"x":965,"y":1.2},{"x":970,"y":0.8},{"x":975,"y":1.2},{"x":980,"y":0.8},{"x":985,"y":1.2},{"x":990,"y":0.8},{"x":995,"y":1.2},{"x":1000,"y":0.8},{"x":1005,"y":1.2},{"x":1010,"y":0.8},{"x":1015,"y":1.2},{"x":1020,"y":0.8},{"x":1025,"y":1.2},{"x":1030.5,"y":1.2},{"x":1032,"y":14},{"x":1033.3,"y":2},{"x":1035,"y":1.5},{"x":1038,"y":1},{"x":1042,"y":1.2},{"x":1046,"y":0.8},{"x":1050,"y":1.5},{"x":1055,"y":0.8},{"x":1060,"y":1.2},{"x":1065,"y":0.8},{"x":1070,"y":1.2},{"x":1075,"y":0.8},{"x":1080,"y":1.2},{"x":1085,"y":0.8},{"x":1090,"y":1.2},{"x":1095,"y":0.8},{"x":1100,"y":1.2},{"x":1105,"y":0.8},{"x":1110,"y":1.2},{"x":1115,"y":0.8},{"x":1120,"y":1.2},{"x":1124.5,"y":1},{"x":1126,"y":6.9},{"x":1127.3,"y":2},{"x":1129,"y":1.2},{"x":1133,"y":0.8},{"x":1140,"y":1},{"x":1147,"y":0.6},{"x":1155,"y":1},{"x":1163,"y":0.6},{"x":1171,"y":1},{"x":1179,"y":0.6},{"x":1187,"y":1},{"x":1195,"y":0.6},{"x":1203,"y":1},{"x":1211,"y":0.6},{"x":1219,"y":1},{"x":1227,"y":0.6},{"x":1235,"y":1},{"x":1237.6,"y":3.4},{"x":1239,"y":1.5},{"x":1243,"y":1},{"x":1250,"y":0.6},{"x":1258,"y":1},{"x":1266,"y":0.6},{"x":1274,"y":1},{"x":1282,"y":0.6},{"x":1290,"y":1},{"x":1298,"y":0.6},{"x":1306,"y":1},{"x":1314,"y":0.6},{"x":1322,"y":1},{"x":1330,"y":0.6},{"x":1338,"y":1},{"x":1346,"y":0.6},{"x":1354,"y":1},{"x":1362,"y":0.6},{"x":1370,"y":1},{"x":1375,"y":1.5},{"x":1378,"y":0.6},{"x":1386,"y":1},{"x":1394,"y":0.6},{"x":1402,"y":1},{"x":1410,"y":0.6},{"x":1418,"y":1},{"x":1426,"y":0.6},{"x":1434,"y":1},{"x":1442,"y":0.6},{"x":1450,"y":1},{"x":1458,"y":0.6},{"x":1466,"y":1},{"x":1474,"y":0.6},{"x":1482,"y":1},{"x":1490,"y":0.6},{"x":1498,"y":1},{"x":1506,"y":0.6},{"x":1514,"y":1},{"x":1522,"y":0.6},{"x":1530,"y":1},{"x":1538,"y":0.6},{"x":1545.5,"y":1},{"x":1547,"y":5.9},{"x":1548.3,"y":2},{"x":1550,"y":1.2},{"x":1555,"y":0.8},{"x":1562,"y":1},{"x":1570,"y":0.6},{"x":1578,"y":1},{"x":1586,"y":0.6},{"x":1594,"y":1},{"x":1602,"y":0.6},{"x":1610,"y":1},{"x":1618,"y":0.6},{"x":1626,"y":1},{"x":1634,"y":0.6},{"x":1642,"y":1},{"x":1650,"y":0.6},{"x":1658,"y":1},{"x":1666,"y":0.6},{"x":1674,"y":1},{"x":1682,"y":0.6},{"x":1690,"y":1},{"x":1698,"y":0.6},{"x":1706,"y":1},{"x":1714,"y":0.6},{"x":1722,"y":1},{"x":1730,"y":0.6},{"x":1738,"y":1},{"x":1746,"y":0.6},{"x":1754,"y":1},{"x":1762,"y":0.6},{"x":1765.3,"y":1},{"x":1766.6,"y":20.6},{"x":1767.8,"y":4},{"x":1769,"y":2.5},{"x":1771,"y":3},{"x":1773,"y":2},{"x":1776,"y":1.8},{"x":1780,"y":1.2},{"x":1785,"y":1.5},{"x":1790,"y":1},{"x":1798,"y":1.2},{"x":1806,"y":0.7},{"x":1814,"y":1},{"x":1822,"y":0.6},{"x":1830,"y":1},{"x":1838,"y":0.6},{"x":1846,"y":1},{"x":1854,"y":0.6},{"x":1862,"y":1},{"x":1870,"y":0.6},{"x":1878,"y":1},{"x":1886,"y":0.6},{"x":1894,"y":1},{"x":1902,"y":0.6},{"x":1910,"y":1},{"x":1918,"y":0.6},{"x":1926,"y":1},{"x":1934,"y":0.6},{"x":1942,"y":1},{"x":1950,"y":0.6},{"x":1958,"y":1},{"x":1966,"y":0.6},{"x":1974,"y":1},{"x":1982,"y":0.6},{"x":1990,"y":1},{"x":2000,"y":0.6}]
},
"spacing": 11,
"vconcat": [
{"spacing": 0, "hconcat": [
 {"width": 1, "height": 1, "data": {"values": []}, "mark": "point"},
 {"spacing": 6, "bounds": "flush", "vconcat": [
 {"width": 521, "height": 164,
  "encoding": {
   "x": {"field": "x", "type": "quantitative", "scale": {"domain": [558, 2000], "nice": false, "zero": false}, "axis": {"title": null, "labels": false, "ticks": false}},
   "y": {"field": "y", "type": "quantitative", "scale": {"domain": [-4, 100], "nice": false, "zero": false}, "axis": {"title": null, "tickCount": 21, "labelExpr": "datum.value === 0 || datum.value === 100 ? datum.label : ''", "tickSize": {"condition": {"test": "datum.value === 0 || datum.value === 100", "value": 5}, "value": 2.7}, "labelFontSize": 12, "labelPadding": 8}}
  },
  "layer": [
   {"data": {"name": "a"}, "mark": {"type": "line", "color": "#000", "strokeWidth": 1.3}},
   {"data": {"values": [{"x": 1253, "y": 81.6, "t": "50%MeOH"}, {"x": 1253, "y": 65.8, "t": "Int: 6.31E1"}]}, "mark": {"type": "text", "fontSize": 16, "color": "#000"}, "encoding": {"text": {"field": "t"}}},
   {"data": {"values": [{"x": 2011, "y": 67, "t": "(a)"}]}, "mark": {"type": "text", "align": "right", "fontSize": 17, "fontWeight": "bold", "color": "#000"}, "encoding": {"text": {"field": "t"}}}
  ]},
 {"width": 521, "height": 164,
  "encoding": {
   "x": {"field": "x", "type": "quantitative", "scale": {"domain": [558, 2000], "nice": false, "zero": false}, "axis": {"title": "m/z", "titleFontWeight": "bold", "titleFontSize": 14, "titlePadding": 1, "tickCount": 144, "labelExpr": "datum.value % 200 === 0 ? '' + datum.value : ''", "tickSize": {"condition": {"test": "datum.value % 200 === 0", "value": 5}, "value": 2.5}, "labelFontSize": 12.5, "labelPadding": 0}},
   "y": {"field": "y", "type": "quantitative", "scale": {"domain": [-3, 100], "nice": false, "zero": false}, "axis": {"title": null, "tickCount": 21, "labelExpr": "datum.value === 0 || datum.value === 100 ? datum.label : ''", "tickSize": {"condition": {"test": "datum.value === 0 || datum.value === 100", "value": 5}, "value": 2.7}, "labelFontSize": 12, "labelPadding": 8}}
  },
  "layer": [
   {"data": {"name": "b"}, "mark": {"type": "line", "color": "#000", "strokeWidth": 1.3}},
   {"data": {"values": [{"x": 1444, "y": 80.3, "t": "50%MeOH+1mM Ser"}, {"x": 1444, "y": 66.5, "t": "Int:15.5"}]}, "mark": {"type": "text", "align": "right", "fontSize": 16, "color": "#000"}, "encoding": {"text": {"field": "t"}}},
   {"data": {"values": [{"x": 2011, "y": 73.4, "t": "(b)"}]}, "mark": {"type": "text", "align": "right", "fontSize": 17, "fontWeight": "bold", "color": "#000"}, "encoding": {"text": {"field": "t"}}}
  ]}
 ]}
]},
{"spacing": 0, "hconcat": [
 {"width": 1, "height": 1, "data": {"values": []}, "mark": "point"},
 {"spacing": 7, "bounds": "flush", "vconcat": [
 {"width": 523, "height": 166,
  "encoding": {
   "x": {"field": "x", "type": "quantitative", "scale": {"domain": [581, 2000], "nice": false, "zero": false}, "axis": {"title": null, "labels": false, "ticks": false}},
   "y": {"field": "y", "type": "quantitative", "scale": {"domain": [0, 100], "nice": false, "zero": false}, "axis": {"title": null, "tickCount": 20, "labelExpr": "datum.value === 0 || datum.value === 100 ? datum.label : ''", "tickSize": {"condition": [{"test": "datum.value === 0 || datum.value === 100", "value": 6}, {"test": "datum.value % 20 === 0", "value": 4}], "value": 2.5}, "labelFontSize": 13.5, "labelPadding": 7.5, "minExtent": 41}}
  },
  "layer": [
   {"data": {"name": "c"}, "mark": {"type": "line", "color": "#000", "strokeWidth": 1}},
   {"data": {"values": [{"x": 1357, "y": 57.7, "t": "ABC"}, {"x": 1357, "y": 44.4, "t": "Int:1.6E3"}]}, "mark": {"type": "text", "align": "right", "fontSize": 17, "color": "#000"}, "encoding": {"text": {"field": "t"}}},
   {"data": {"values": [{"x": 1986, "y": 57.7, "t": "(c)"}]}, "mark": {"type": "text", "align": "right", "fontSize": 17, "fontWeight": "bold", "color": "#000"}, "encoding": {"text": {"field": "t"}}}
  ]},
 {"width": 523, "height": 165,
  "encoding": {
   "x": {"field": "x", "type": "quantitative", "scale": {"domain": [581, 2000], "nice": false, "zero": false}, "axis": {"title": "m/z", "titleFontWeight": "bold", "titleFontSize": 14, "titlePadding": 0, "tickCount": 71, "labelExpr": "datum.value % 200 === 0 ? '' + datum.value : ''", "tickSize": {"condition": {"test": "datum.value % 200 === 0", "value": 5}, "value": 2.5}, "labelFontSize": 13.5, "labelPadding": 2}},
   "y": {"field": "y", "type": "quantitative", "scale": {"domain": [0, 100], "nice": false, "zero": false}, "axis": {"title": null, "tickCount": 20, "labelExpr": "datum.value === 0 || datum.value === 100 ? datum.label : ''", "tickSize": {"condition": [{"test": "datum.value === 0 || datum.value === 100", "value": 6}, {"test": "datum.value % 20 === 0", "value": 4}], "value": 2.5}, "labelFontSize": 13.5, "labelPadding": 7.5, "minExtent": 41}}
  },
  "layer": [
   {"data": {"name": "d"}, "mark": {"type": "line", "color": "#000", "strokeWidth": 1}},
   {"data": {"values": [{"x": 1362, "y": 67.3, "t": "ABC+1mM Ser"}, {"x": 1362, "y": 55.2, "t": "Int:5.3E3"}]}, "mark": {"type": "text", "align": "right", "fontSize": 17, "color": "#000"}, "encoding": {"text": {"field": "t"}}},
   {"data": {"values": [{"x": 1986, "y": 67.3, "t": "(d)"}]}, "mark": {"type": "text", "align": "right", "fontSize": 17, "fontWeight": "bold", "color": "#000"}, "encoding": {"text": {"field": "t"}}},
   {"data": {"values": [{"x": 820, "y": 63, "t": "[Ser₈+H]⁺"}]}, "mark": {"type": "text", "angle": 270, "align": "left", "baseline": "middle", "fontSize": 16, "color": "#000"}, "encoding": {"text": {"field": "t"}}}
  ]}
 ]}
]}
]
}
